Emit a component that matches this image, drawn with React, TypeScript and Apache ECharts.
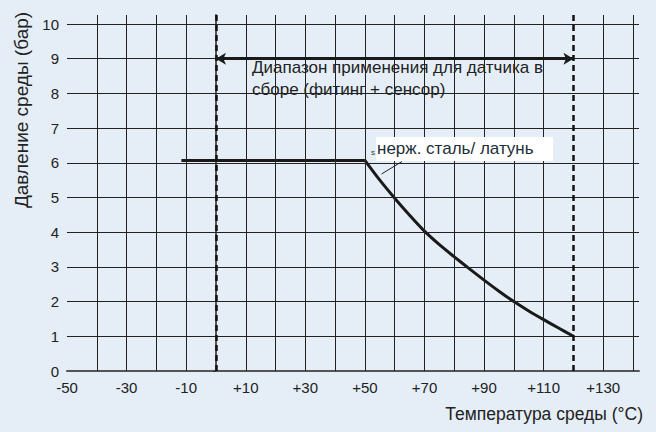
import React, { useEffect, useRef } from "react";
import * as echarts from "echarts";

// Data
const tempFlat = [-11.6, 50];
const pressureFlat = [6.07, 6.07];
const tempCurve = [50, 55, 60, 65, 70, 75, 80, 85, 90, 95, 100, 105, 110, 115, 120];
const pressureCurve = [6.07, 5.5, 4.98, 4.49, 4.03, 3.64, 3.29, 2.95, 2.62, 2.3, 2.0, 1.73, 1.48, 1.24, 1.0];

const xGridValues = [-40, -30, -20, -10, 0, 10, 20, 30, 40, 50, 60, 70, 80, 90, 100, 110, 120, 130, 140];
const yGridValues = [1, 2, 3, 4, 5, 6, 7, 8, 9, 10];
const xTickLabels = [-50, -30, -10, 10, 30, 50, 70, 90, 110, 130];
const yTickLabels = [0, 1, 2, 3, 4, 5, 6, 7, 8, 9, 10];
const rangeBounds = [0, 120];
const rangeArrowPressure = 9;

const xTitle = "Температура среды (°C)";
const yTitle = "Давление среды (бар)";
const rangeLine1 = "Диапазон применения для датчика в";
const rangeLine2 = "сборе (фитинг + сенсор)";
const materialLabel = "нерж. сталь/ латунь";

const FONT = "'Liberation Sans', Arial, Helvetica, sans-serif";

export default function App() {
  const ref = useRef<HTMLDivElement>(null);
  useEffect(() => {
    if (!ref.current) return;
    const chart = echarts.init(ref.current, null, { renderer: "svg" });
    const option: any = {
      animation: false,
      backgroundColor: "#e5eef7",
      textStyle: { fontFamily: FONT },
      grid: { left: 67, right: 17, top: 15, bottom: 61, containLabel: false },
      xAxis: {
        type: "value",
        min: -50,
        max: 142,
        splitLine: { show: false },
        axisLine: { show: true, lineStyle: { color: "#555", width: 2 } },
        axisTick: { show: false },
        axisLabel: {
          customValues: xTickLabels,
          margin: 9,
          fontSize: 15,
          color: "#222",
          fontFamily: FONT,
          formatter: (v: number) => (v > 0 ? "+" + v : String(v)),
        },
      },
      yAxis: {
        type: "value",
        min: 0,
        max: 10.26,
        splitLine: { show: false },
        axisLine: { show: true, lineStyle: { color: "#555", width: 2 } },
        axisTick: { show: true, customValues: yTickLabels, length: 3, lineStyle: { color: "#333" } },
        axisLabel: {
          customValues: yTickLabels,
          margin: 8,
          fontSize: 15,
          color: "#222",
          fontFamily: FONT,
        },
      },
      series: [
        {
          type: "line",
          z: 1,
          data: [],
          silent: true,
          markLine: {
            silent: true,
            symbol: "none",
            label: { show: false },
            lineStyle: { color: "#222", width: 1, type: "solid" },
            data: [
              ...xGridValues
                .filter((v) => rangeBounds.indexOf(v) < 0)
                .map((v) => ({ xAxis: v })),
              ...yGridValues.map((v) => ({ yAxis: v })),
            ],
          },
        },
        {
          type: "line",
          z: 2,
          data: [],
          silent: true,
          markLine: {
            silent: true,
            symbol: "none",
            label: { show: false },
            lineStyle: { color: "#111", width: 2.5, type: [6, 4] },
            data: rangeBounds.map((v) => ({ xAxis: v })),
          },
        },
        {
          type: "line",
          z: 3,
          data: [],
          silent: true,
          markLine: {
            silent: true,
            symbol: ["arrow", "arrow"],
            symbolSize: [9, 10],
            label: { show: false },
            lineStyle: { color: "#1a1a1a", width: 3, type: "solid" },
            data: [
              [
                { coord: [rangeBounds[0], rangeArrowPressure] },
                { coord: [rangeBounds[1], rangeArrowPressure] },
              ],
            ],
          },
        },
        {
          type: "line",
          z: 4,
          showSymbol: false,
          symbol: "none",
          lineStyle: { color: "#1a1a1a", width: 3 },
          data: tempFlat.map((t, i) => [t, pressureFlat[i]]),
        },
        {
          type: "line",
          z: 4,
          showSymbol: false,
          symbol: "none",
          smooth: 0.3,
          lineStyle: { color: "#1a1a1a", width: 3, join: "round" },
          data: tempCurve.map((t, i) => [t, pressureCurve[i]]),
        },
      ],
      graphic: [
        {
          type: "text",
          x: 643,
          y: 414,
          z: 10,
          style: { text: xTitle, align: "right", verticalAlign: "middle", fontSize: 17.5, fill: "#222", fontFamily: FONT },
        },
        {
          type: "text",
          x: 21,
          y: 110,
          rotation: Math.PI / 2,
          z: 10,
          style: { text: yTitle, align: "center", verticalAlign: "middle", fontSize: 19, fill: "#222", fontFamily: FONT },
        },
        {
          type: "text",
          x: 252,
          y: 67,
          z: 10,
          style: { text: rangeLine1, align: "left", verticalAlign: "middle", fontSize: 17, fill: "#222", fontFamily: FONT },
        },
        {
          type: "text",
          x: 252,
          y: 89,
          z: 10,
          style: { text: rangeLine2, align: "left", verticalAlign: "middle", fontSize: 17, fill: "#222", fontFamily: FONT },
        },
        {
          type: "rect",
          z: 10,
          shape: { x: 376, y: 137, width: 177, height: 24 },
          style: { fill: "#ffffff" },
        },
        {
          type: "text",
          x: 377,
          y: 148,
          z: 11,
          style: { text: materialLabel, align: "left", verticalAlign: "middle", fontSize: 17, fill: "#1e2e38", fontFamily: FONT },
        },
        {
          type: "text",
          x: 373,
          y: 152,
          z: 11,
          style: { text: "s", align: "center", verticalAlign: "middle", fontSize: 8, fill: "#333", fontFamily: FONT },
        },
        {
          type: "line",
          z: 11,
          shape: { x1: 381.5, y1: 174, x2: 402, y2: 161.5 },
          style: { stroke: "#222", lineWidth: 1 },
        },
      ],
    };
    chart.setOption(option);
    return () => chart.dispose();
  }, []);
  return (
    <div
      ref={ref}
      style={{ position: "fixed", left: 0, top: 0, width: 656, height: 432 }}
    />
  );
}
